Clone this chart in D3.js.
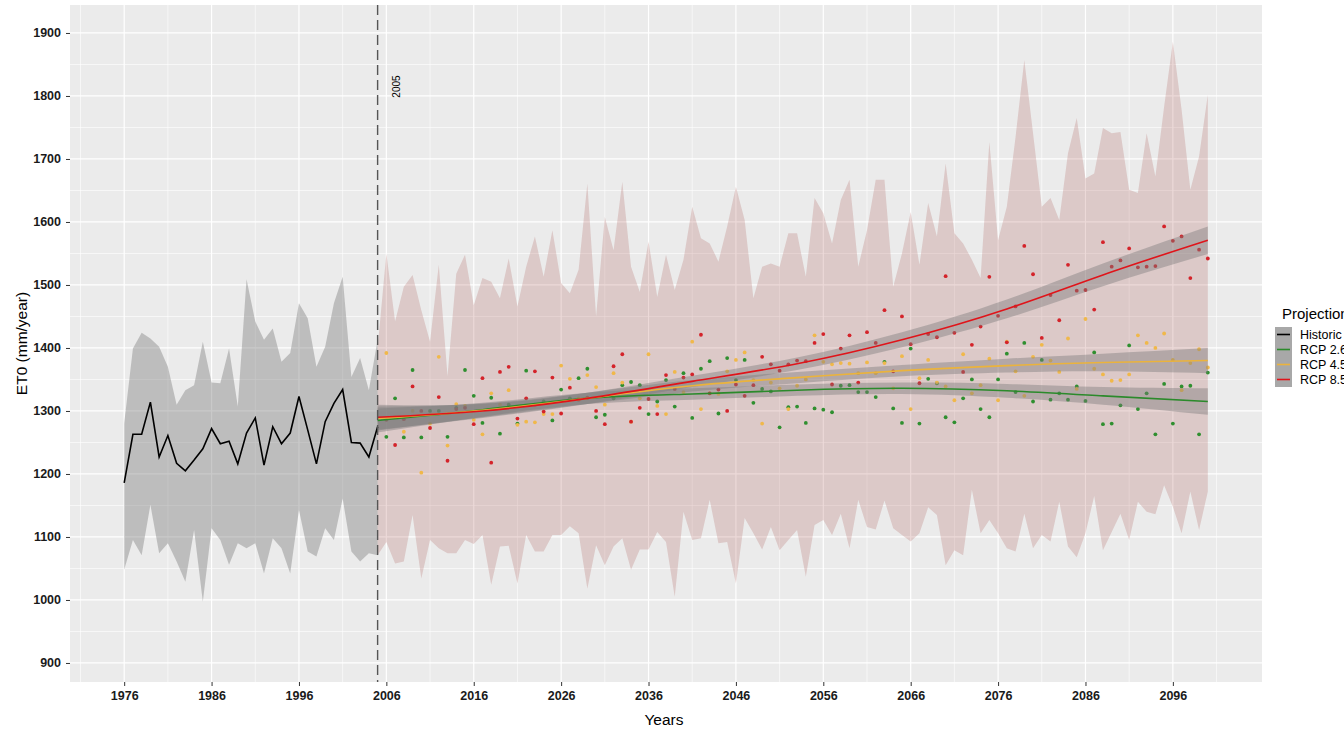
<!DOCTYPE html>
<html>
<head>
<meta charset="utf-8">
<script src="https://cdn.jsdelivr.net/npm/d3@7"></script>
<style>
  body { margin: 0; background: #ffffff; }
  text { font-family: "Liberation Sans", Arial, sans-serif; }
</style>
</head>
<body>
<div id="chart"></div>
<script>
// 1: DATA
const histYears = d3.range(1976, 2006);
const histMean = [1186, 1263, 1263, 1314, 1227, 1261, 1217, 1205, 1222, 1240, 1272, 1248, 1252, 1216, 1265,
  1289, 1214, 1275, 1248, 1265, 1323, 1270, 1216, 1283, 1312, 1334, 1250, 1249, 1227, 1275];
const histUpper = [1280, 1399, 1424, 1415, 1402, 1370, 1310, 1333, 1341, 1410, 1345, 1344, 1399, 1307, 1509,
  1442, 1413, 1431, 1378, 1392, 1471, 1447, 1370, 1402, 1471, 1513, 1354, 1384, 1333, 1413];
const histLower = [1048, 1095, 1071, 1151, 1074, 1090, 1061, 1029, 1111, 997, 1114, 1095, 1056, 1090, 1082,
  1090, 1042, 1098, 1082, 1042, 1143, 1077, 1069, 1114, 1095, 1161, 1077, 1061, 1074, 1071];

const projYears = d3.range(2005, 2101);
const projUpper = [1400, 1550, 1442, 1497, 1516, 1460, 1410, 1532, 1355, 1518, 1548, 1468, 1511, 1505, 1479, 1542,
  1466, 1529, 1577, 1513, 1587, 1503, 1487, 1524, 1661, 1450, 1608, 1555, 1664, 1529, 1489, 1569,
  1481, 1548, 1492, 1540, 1624, 1574, 1566, 1537, 1593, 1656, 1603, 1479, 1529, 1534, 1529, 1582,
  1582, 1513, 1638, 1614, 1566, 1635, 1667, 1529, 1587, 1667, 1667, 1497, 1550, 1616, 1532, 1630,
  1577, 1693, 1582, 1566, 1540, 1511, 1727, 1571, 1624, 1735, 1857, 1741, 1624, 1638, 1603, 1709,
  1765, 1669, 1677, 1749, 1741, 1743, 1651, 1646, 1741, 1672, 1783, 1886, 1778, 1651, 1704, 1802];
const projLower = [1071, 1092, 1058, 1061, 1135, 1034, 1095, 1082, 1074, 1074, 1095, 1089, 1103, 1024, 1085, 1086,
  1026, 1103, 1077, 1077, 1103, 1103, 1117, 1106, 1018, 1087, 1055, 1085, 1098, 1048, 1080, 1080,
  1108, 1092, 1005, 1140, 1095, 1098, 1159, 1090, 1092, 1026, 1130, 1106, 1080, 1116, 1079, 1095,
  1111, 1037, 1119, 1127, 1103, 1137, 1082, 1159, 1116, 1112, 1158, 1114, 1103, 1093, 1106, 1147,
  1135, 1055, 1079, 1071, 1175, 1106, 1127, 1106, 1082, 1077, 1137, 1082, 1103, 1093, 1156, 1085,
  1068, 1106, 1165, 1079, 1108, 1137, 1095, 1156, 1140, 1136, 1182, 1148, 1106, 1172, 1111, 1172];

const pointYears = d3.range(2006, 2101);
const rcp26 = [1259, 1320, 1258, 1365, 1258, 1300, 1300, 1259, 1305, 1365, 1324, 1281, 1321, 1264, 1310, 1280,
  1364, 1310, 1315, 1285, 1334, 1320, 1352, 1367, 1290, 1294, 1320, 1341, 1346, 1341, 1295, 1315,
  1349, 1307, 1360, 1289, 1367, 1379, 1296, 1384, 1349, 1381, 1313, 1335, 1331, 1274, 1306, 1307,
  1281, 1304, 1302, 1298, 1340, 1341, 1330, 1330, 1322, 1378, 1304, 1281, 1399, 1280, 1351, 1344,
  1290, 1282, 1320, 1350, 1303, 1290, 1350, 1391, 1330, 1408, 1315, 1381, 1318, 1328, 1318, 1339,
  1316, 1393, 1279, 1280, 1309, 1404, 1303, 1328, 1263, 1343, 1280, 1339, 1340, 1263, 1361];
const rcp45 = [1392, 1290, 1267, 1300, 1202, 1280, 1386, 1245, 1311, 1308, 1286, 1263, 1328, 1310, 1333, 1278,
  1283, 1282, 1295, 1295, 1372, 1351, 1320, 1357, 1338, 1310, 1360, 1345, 1283, 1320, 1390, 1308,
  1295, 1362, 1330, 1410, 1303, 1328, 1327, 1363, 1381, 1393, 1349, 1280, 1345, 1336, 1303, 1340,
  1350, 1420, 1378, 1374, 1376, 1375, 1360, 1377, 1360, 1376, 1336, 1387, 1303, 1352, 1381, 1345,
  1339, 1317, 1390, 1328, 1341, 1383, 1317, 1410, 1363, 1324, 1386, 1405, 1380, 1362, 1415, 1335,
  1446, 1367, 1358, 1348, 1349, 1358, 1420, 1408, 1400, 1423, 1381, 1333, 1376, 1398, 1369];
const rcp85 = [1286, 1246, 1287, 1339, 1300, 1273, 1322, 1221, 1303, 1305, 1279, 1352, 1218, 1362, 1370, 1288,
  1320, 1363, 1299, 1353, 1296, 1337, 1318, 1321, 1300, 1279, 1371, 1390, 1283, 1305, 1319, 1295,
  1357, 1335, 1353, 1358, 1421, 1328, 1334, 1300, 1342, 1324, 1341, 1386, 1374, 1364, 1374, 1380,
  1379, 1408, 1422, 1342, 1399, 1420, 1345, 1425, 1408, 1460, 1363, 1450, 1406, 1344, 1422, 1417,
  1514, 1424, 1362, 1405, 1434, 1513, 1451, 1409, 1466, 1562, 1517, 1416, 1484, 1444, 1532, 1491,
  1492, 1461, 1568, 1529, 1539, 1558, 1528, 1529, 1530, 1593, 1570, 1577, 1511, 1556, 1542];

// smoothed trend and half width of its confidence band
const smoothYears = [2005, 2017, 2029, 2041, 2053, 2065, 2077, 2088, 2100];
const smooth26 = [1285, 1302, 1320, 1327, 1333, 1336, 1332, 1324, 1315];
const smooth45 = [1288, 1301, 1320, 1340, 1353, 1364, 1372, 1377, 1380];
const smooth85 = [1290, 1300, 1320, 1347, 1375, 1413, 1462, 1516, 1571];
const band26 = [19, 11, 9, 9, 9, 9, 11, 14, 21];
const band45 = [19, 11, 9, 9, 9, 9, 11, 14, 20];
const band85 = [20, 11, 9, 9, 10, 12, 15, 18, 22];

const xTicks = [1976, 1986, 1996, 2006, 2016, 2026, 2036, 2046, 2056, 2066, 2076, 2086, 2096];
const yTicks = [900, 1000, 1100, 1200, 1300, 1400, 1500, 1600, 1700, 1800, 1900];
const legendLabels = ["Historic", "RCP 2.6", "RCP 4.5", "RCP 8.5"];

// 2: SIZES, SCALES
const margin = { top: 5, right: 82, bottom: 48, left: 70 };
const width = 1344 - margin.left - margin.right;
const height = 730 - margin.top - margin.bottom;

const colors = { hist: "#000000", rcp26: "#2b8a2b", rcp45: "#ebb33c", rcp85: "#e0141a" };
const pointColors = { rcp26: "#2f8f2f", rcp45: "#f0b84a", rcp85: "#d4232a" };

const svg = d3.select("#chart")
    .append("svg")
    .attr("width", 1344)
    .attr("height", 730);

const g = svg.append("g")
    .attr("transform", `translate(${margin.left},${margin.top})`);

const x = d3.scaleLinear().domain([1969.8, 2106.2]).range([0, width]);
const y = d3.scaleLinear().domain([869.8, 1944.4]).range([height, 0]);

// 3: PANEL + GRID
g.append("rect")
    .attr("width", width)
    .attr("height", height)
    .attr("fill", "#ebebeb");

const minorX = xTicks.map(d => d - 5).concat([2101]);
const minorY = yTicks.slice(0, -1).map(d => d + 50);

g.selectAll(".minor-x").data(minorX).enter().append("line")
    .attr("x1", d => x(d)).attr("x2", d => x(d))
    .attr("y1", 0).attr("y2", height)
    .attr("stroke", "#ffffff").attr("stroke-width", 0.6);
g.selectAll(".minor-y").data(minorY).enter().append("line")
    .attr("x1", 0).attr("x2", width)
    .attr("y1", d => y(d)).attr("y2", d => y(d))
    .attr("stroke", "#ffffff").attr("stroke-width", 0.6);
g.selectAll(".major-x").data(xTicks).enter().append("line")
    .attr("x1", d => x(d)).attr("x2", d => x(d))
    .attr("y1", 0).attr("y2", height)
    .attr("stroke", "#ffffff").attr("stroke-width", 1.2);
g.selectAll(".major-y").data(yTicks).enter().append("line")
    .attr("x1", 0).attr("x2", width)
    .attr("y1", d => y(d)).attr("y2", d => y(d))
    .attr("stroke", "#ffffff").attr("stroke-width", 1.2);

// 4: RIBBONS
const ribbon = d3.area()
    .x(d => x(d.year))
    .y0(d => y(d.lo))
    .y1(d => y(d.hi));

const histRows = histYears.map((yr, i) => ({ year: yr, lo: histLower[i], hi: histUpper[i], mean: histMean[i] }));
const projRows = projYears.map((yr, i) => ({ year: yr, lo: projLower[i], hi: projUpper[i] }));

g.append("path")
    .attr("d", ribbon(histRows))
    .attr("fill", "#7f7f7f")
    .attr("fill-opacity", 0.42);

g.append("path")
    .attr("d", ribbon(projRows))
    .attr("fill", "#a0403a")
    .attr("fill-opacity", 0.2);

// 5: POINTS
const series = [
    { key: "rcp26", values: rcp26, smooth: smooth26, band: band26 },
    { key: "rcp45", values: rcp45, smooth: smooth45, band: band45 },
    { key: "rcp85", values: rcp85, smooth: smooth85, band: band85 }
];

series.forEach(s => {
    g.selectAll(".pt-" + s.key)
        .data(pointYears.map((yr, i) => ({ year: yr, v: s.values[i] })))
        .enter()
        .append("circle")
        .attr("cx", d => x(d.year))
        .attr("cy", d => y(d.v))
        .attr("r", 1.9)
        .attr("fill", pointColors[s.key]);
});

// 6: SMOOTH LINES WITH CONFIDENCE BANDS
const smoothArea = d3.area()
    .x(d => x(d.year))
    .y0(d => y(d.v - d.se))
    .y1(d => y(d.v + d.se))
    .curve(d3.curveNatural);

const smoothLine = d3.line()
    .x(d => x(d.year))
    .y(d => y(d.v))
    .curve(d3.curveNatural);

series.forEach(s => {
    const rows = smoothYears.map((yr, i) => ({ year: yr, v: s.smooth[i], se: s.band[i] }));
    g.append("path")
        .attr("d", smoothArea(rows))
        .attr("fill", "#7a7a7a")
        .attr("fill-opacity", 0.42);
});
series.forEach(s => {
    const rows = smoothYears.map((yr, i) => ({ year: yr, v: s.smooth[i] }));
    g.append("path")
        .attr("d", smoothLine(rows))
        .attr("fill", "none")
        .attr("stroke", colors[s.key])
        .attr("stroke-width", 1.6);
});

// 7: HISTORIC LINE
g.append("path")
    .attr("d", d3.line().x(d => x(d.year)).y(d => y(d.mean))(histRows))
    .attr("fill", "none")
    .attr("stroke", colors.hist)
    .attr("stroke-width", 1.6);

// 8: 2005 MARKER
g.append("line")
    .attr("x1", x(2005)).attr("x2", x(2005))
    .attr("y1", 0).attr("y2", height)
    .attr("stroke", "#555555")
    .attr("stroke-width", 1.4)
    .attr("stroke-dasharray", "10,5");

g.append("text")
    .attr("transform", `translate(${x(2005) + 22},${y(1815)}) rotate(-90)`)
    .attr("text-anchor", "middle")
    .style("font-size", "10px")
    .attr("fill", "#000")
    .text("2005");

// 9: AXES
const xAxis = g.append("g")
    .attr("transform", `translate(0,${height})`)
    .call(d3.axisBottom(x).tickValues(xTicks).tickFormat(d3.format("d")).tickSize(4).tickPadding(5));
const yAxis = g.append("g")
    .call(d3.axisLeft(y).tickValues(yTicks).tickFormat(d3.format("d")).tickSize(4).tickPadding(5));

[xAxis, yAxis].forEach(a => {
    a.select(".domain").remove();
    a.selectAll(".tick line").attr("stroke", "#333333");
    a.selectAll(".tick text")
        .attr("fill", "#1a1a1a")
        .style("font-size", "12.5px")
        .style("font-weight", "bold")
        .style("font-family", "'Liberation Sans', Arial, sans-serif");
});

svg.append("text")
    .attr("x", margin.left + width / 2 - 2)
    .attr("y", 725)
    .attr("text-anchor", "middle")
    .style("font-size", "15.5px")
    .text("Years");

svg.append("text")
    .attr("transform", `translate(27,${margin.top + height / 2}) rotate(-90)`)
    .attr("text-anchor", "middle")
    .style("font-size", "15.5px")
    .text("ET0 (mm/year)");

// 10: LEGEND
const legend = svg.append("g").attr("transform", "translate(1275,0)");

legend.append("text")
    .attr("x", 7)
    .attr("y", 319)
    .style("font-size", "15px")
    .text("Projection");

const legendKeys = ["hist", "rcp26", "rcp45", "rcp85"];
const item = legend.selectAll(".item")
    .data(legendKeys)
    .enter()
    .append("g")
    .attr("transform", (d, i) => `translate(0,${327 + i * 15})`);

item.append("rect")
    .attr("width", 17)
    .attr("height", 15)
    .attr("fill", "#a8a8a8");

item.append("line")
    .attr("x1", 2).attr("x2", 15)
    .attr("y1", 7.5).attr("y2", 7.5)
    .attr("stroke", d => colors[d])
    .attr("stroke-width", 1.6);

item.append("text")
    .attr("x", 25)
    .attr("y", 12)
    .style("font-size", "12.5px")
    .text((d, i) => legendLabels[i]);
</script>
</body>
</html>
